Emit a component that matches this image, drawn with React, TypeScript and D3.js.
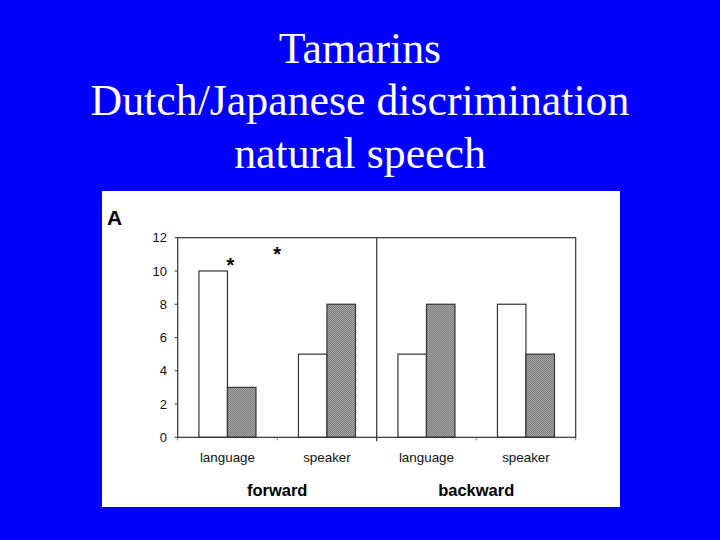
import * as d3 from "d3";

const TITLE_LINES = ["Tamarins", "Dutch/Japanese discrimination", "natural speech"];
const GROUPS = ["forward", "backward"];
const CONDITIONS = ["language", "speaker"];
const SERIES = ["open", "hatched"];
// one value per group × condition, in order forward-language, forward-speaker, backward-language, backward-speaker
const OPEN_VALUES = [10, 5, 5, 8];
const HATCHED_VALUES = [3, 8, 8, 5];
const Y_TICKS = [0, 2, 4, 6, 8, 10, 12];
// significance stars: position along the category axis (in category units) and height in y units
const STARS = [
  { at: 0.53, value: 10.7 },
  { at: 1.0, value: 11.33 },
];

const W = 720;
const H = 540;
const PANEL = { x: 102, y: 191, w: 518, h: 316 };
const PLOT = { left: 177.7, right: 575.7, top: 237.7, bottom: 437.3 };
const LINE = "#333";
const SANS = "Arial, 'Liberation Sans', sans-serif";

export default function App() {
  const cats = GROUPS.flatMap((g) => CONDITIONS.map((c) => `${g}-${c}`));

  const x = d3.scaleBand<string>().domain(cats).range([PLOT.left, PLOT.right]);
  const inner = d3
    .scaleBand<string>()
    .domain(SERIES)
    .range([0, x.bandwidth()])
    .paddingInner(0)
    .paddingOuter(0.745);
  const y = d3.scaleLinear().domain([0, 12]).range([PLOT.bottom, PLOT.top]);
  const catPos = d3
    .scaleLinear()
    .domain([0, cats.length])
    .range([PLOT.left, PLOT.right]);

  const groupX = (gi: number) =>
    (x(`${GROUPS[gi]}-${CONDITIONS[0]}`)! + x(`${GROUPS[gi]}-${CONDITIONS[CONDITIONS.length - 1]}`)! + x.bandwidth()) / 2;
  const divider = x(`${GROUPS[1]}-${CONDITIONS[0]}`)!;

  return (
    <svg
      width={W}
      height={H}
      style={{ position: "fixed", left: 0, top: 0, display: "block" }}
    >
      <defs>
        <pattern id="hatch" width={2} height={2} patternUnits="userSpaceOnUse">
          <rect width={2} height={2} fill="#b4b4b4" />
          <rect width={1} height={1} fill="#6e6e6e" />
          <rect x={1} y={1} width={1} height={1} fill="#6e6e6e" />
        </pattern>
      </defs>

      <rect width={W} height={H} fill="#0000fc" />

      {TITLE_LINES.map((t, i) => (
        <text
          key={t}
          x={W / 2}
          y={62.5 + i * 52.6}
          textAnchor="middle"
          fill="#fff"
          style={{ font: "43.8px 'Times New Roman', 'Liberation Serif', serif" }}
        >
          {t}
        </text>
      ))}

      <rect x={PANEL.x} y={PANEL.y} width={PANEL.w} height={PANEL.h} fill="#fff" />

      <text
        x={107}
        y={224.5}
        fill="#000"
        style={{ font: `bold 21px ${SANS}` }}
      >
        A
      </text>

      {/* bars */}
      {cats.map((c, i) => (
        <g key={c} transform={`translate(${x(c)},0)`}>
          {[OPEN_VALUES[i], HATCHED_VALUES[i]].map((v, si) => (
            <rect
              key={SERIES[si]}
              x={inner(SERIES[si])}
              y={y(v)}
              width={inner.bandwidth()}
              height={y(0) - y(v)}
              fill={si === 0 ? "#fff" : "url(#hatch)"}
              stroke={LINE}
              strokeWidth={1.2}
            />
          ))}
        </g>
      ))}

      {/* frame */}
      <rect
        x={PLOT.left}
        y={PLOT.top}
        width={PLOT.right - PLOT.left}
        height={PLOT.bottom - PLOT.top}
        fill="none"
        stroke={LINE}
        strokeWidth={1.2}
      />
      <line x1={divider} x2={divider} y1={PLOT.top} y2={PLOT.bottom + 4} stroke={LINE} strokeWidth={1.2} />

      {/* y axis */}
      {Y_TICKS.map((t) => (
        <g key={t}>
          <line x1={PLOT.left - 3} x2={PLOT.left} y1={y(t)} y2={y(t)} stroke={LINE} />
          <text
            x={167}
            y={y(t)}
            dy="0.36em"
            textAnchor="end"
            fill="#111"
            style={{ font: `13px ${SANS}` }}
          >
            {t}
          </text>
        </g>
      ))}

      {/* x axis ticks at category boundaries */}
      {d3.range(cats.length + 1).map((i) => (
        <line
          key={i}
          x1={catPos(i)}
          x2={catPos(i)}
          y1={PLOT.bottom}
          y2={PLOT.bottom + 3}
          stroke={LINE}
          strokeOpacity={0.6}
        />
      ))}

      {cats.map((c, i) => (
        <text
          key={c}
          x={x(c)! + x.bandwidth() / 2}
          y={462}
          textAnchor="middle"
          fill="#111"
          style={{ font: `13.4px ${SANS}` }}
        >
          {CONDITIONS[i % CONDITIONS.length]}
        </text>
      ))}

      {GROUPS.map((g, gi) => (
        <text
          key={g}
          x={groupX(gi)}
          y={496}
          textAnchor="middle"
          fill="#000"
          style={{ font: `bold 16.5px ${SANS}` }}
        >
          {g}
        </text>
      ))}

      {STARS.map((s, i) => (
        <text
          key={i}
          x={catPos(s.at)}
          y={y(s.value)}
          dy="0.62em"
          textAnchor="middle"
          fill="#000"
          style={{ font: `bold 20px ${SANS}` }}
        >
          *
        </text>
      ))}
    </svg>
  );
}
